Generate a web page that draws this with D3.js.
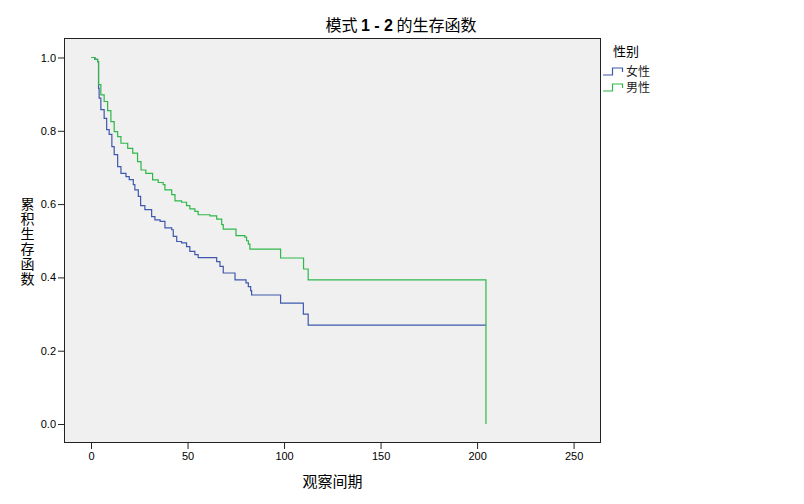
<!DOCTYPE html>
<html><head><meta charset="utf-8">
<script src="https://cdn.jsdelivr.net/npm/d3@7"></script>
<style>
body{margin:0;background:#fff;}
text{font-family:"Liberation Sans",Arial,"Noto Sans CJK SC",sans-serif;}
.cjk{font-family:"Noto Sans CJK SC","Liberation Sans",sans-serif;}
</style></head>
<body>
<svg id="chart" width="804" height="504"></svg>
<script>
// ---- data ----
const chartTitle = ["模式 ", "1 - 2", " 的生存函数"];
const xTitle = "观察间期";
const yTitle = "累积生存函数";
const legendTitle = "性别";
const seriesNames = ["女性", "男性"];
const xTicks = [0, 50, 100, 150, 200, 250];
const yTicks = [0.0, 0.2, 0.4, 0.6, 0.8, 1.0];

const femaleTime = [0, 2, 3.4, 3.9, 4.2, 5.1, 6.8, 8.1, 9.4, 10.8, 12.0, 13.8, 15.5, 18.1, 19.8, 21.9, 22.7, 24.5, 25.7, 27.9, 31.4, 33.1, 35.8, 38.3, 41.8, 42.6, 44.4, 46.9, 49.5, 51.2, 53.8, 55.5, 65.1, 66.8, 68.5, 74.6, 80.3, 81.5, 82.7, 83.2, 98.2, 110.0, 112.5, 204.6];
const femaleSurv = [1.0, 0.995, 0.989, 0.916, 0.889, 0.858, 0.834, 0.803, 0.790, 0.757, 0.735, 0.702, 0.684, 0.675, 0.667, 0.653, 0.639, 0.621, 0.596, 0.585, 0.566, 0.557, 0.553, 0.535, 0.530, 0.512, 0.498, 0.494, 0.484, 0.471, 0.462, 0.454, 0.443, 0.430, 0.412, 0.393, 0.385, 0.375, 0.364, 0.352, 0.330, 0.300, 0.270, 0.270];

const maleTime = [0, 2, 3.4, 3.9, 5.1, 6.8, 8.6, 10.3, 12.0, 13.8, 15.5, 19.0, 21.6, 24.1, 25.9, 28.4, 31.9, 34.8, 37.4, 38.3, 41.8, 43.5, 46.9, 49.5, 51.2, 53.8, 55.5, 61.6, 65.1, 67.7, 68.5, 75.1, 79.7, 80.6, 81.5, 82.3, 98.2, 110.1, 112.5, 204.6];
const maleSurv = [1.0, 0.995, 0.989, 0.926, 0.898, 0.880, 0.855, 0.825, 0.798, 0.784, 0.766, 0.752, 0.739, 0.716, 0.693, 0.684, 0.666, 0.659, 0.653, 0.639, 0.626, 0.609, 0.605, 0.596, 0.587, 0.580, 0.571, 0.568, 0.559, 0.544, 0.532, 0.514, 0.510, 0.500, 0.491, 0.477, 0.453, 0.423, 0.393, 0.0];

const colors = ["#3E58AC", "#2EB848"];

// ---- drawing ----
const svg = d3.select("#chart");
svg.append("rect").attr("width", 804).attr("height", 504).attr("fill", "#fff");

const plot = {left: 64, right: 601, top: 38, bottom: 443};
const x = d3.scaleLinear().domain([-14.0, 264.2]).range([plot.left, plot.right]);
const y = d3.scaleLinear().domain([-0.0518, 1.0532]).range([plot.bottom, plot.top]);

svg.append("rect")
  .attr("x", plot.left).attr("y", plot.top)
  .attr("width", plot.right - plot.left).attr("height", plot.bottom - plot.top)
  .attr("fill", "#f0f0f0");

// axes
const xAxis = d3.axisBottom(x).tickValues(xTicks).tickFormat(d3.format("d")).tickSize(6).tickPadding(3);
const yAxis = d3.axisLeft(y).tickValues(yTicks).tickFormat(d3.format(".1f")).tickSize(6).tickPadding(2);

const gx = svg.append("g").attr("transform", `translate(0,${plot.bottom})`).call(xAxis);
const gy = svg.append("g").attr("transform", `translate(${plot.left},0)`).call(yAxis);
[gx, gy].forEach(g => {
  g.select(".domain").remove();
  g.selectAll(".tick line").attr("stroke", "#222");
  g.selectAll(".tick text").attr("fill", "#000").style("font-size", "11px")
    .style("font-family", "'Liberation Sans', Arial, sans-serif");
});

// frame
svg.append("rect")
  .attr("x", plot.left + 0.5).attr("y", plot.top + 0.5)
  .attr("width", plot.right - plot.left - 1).attr("height", plot.bottom - plot.top - 1)
  .attr("fill", "none").attr("stroke", "#222").attr("stroke-width", 1);

// curves
const series = [
  {name: seriesNames[0], t: femaleTime, s: femaleSurv, color: colors[0]},
  {name: seriesNames[1], t: maleTime, s: maleSurv, color: colors[1]}
];
const line = d3.line().x(d => x(d[0])).y(d => y(d[1])).curve(d3.curveStepAfter);
series.forEach(se => {
  const pts = se.t.map((t, i) => [t, se.s[i]]);
  svg.append("path").datum(pts)
    .attr("d", line)
    .attr("fill", "none").attr("stroke", se.color).attr("stroke-width", 1.2);
});

// title
const tt = svg.append("text").attr("class", "cjk")
  .attr("x", 401).attr("y", 31).attr("text-anchor", "middle")
  .style("font-size", "16px").attr("fill", "#000");
tt.append("tspan").text(chartTitle[0]);
tt.append("tspan").style("font-weight", "bold").style("font-family", "'Liberation Sans', Arial, sans-serif").text(chartTitle[1]);
tt.append("tspan").text(chartTitle[2]);

// x title
svg.append("text").attr("class", "cjk")
  .attr("x", (plot.left + plot.right) / 2).attr("y", 487)
  .attr("text-anchor", "middle").style("font-size", "15px").attr("fill", "#000")
  .text(xTitle);

// y title: one vertical text
svg.append("text").attr("class", "cjk")
  .attr("x", 27.5).attr("y", 197)
  .style("writing-mode", "vertical-rl")
  .style("font-size", "14px").style("letter-spacing", "1px").attr("fill", "#000")
  .text(yTitle);

// legend
svg.append("text").attr("class", "cjk")
  .attr("x", 613).attr("y", 56).style("font-size", "13px").attr("fill", "#000")
  .text(legendTitle);
series.forEach((se, i) => {
  const cy = 71 + i * 16;
  svg.append("path")
    .attr("d", `M603,${cy + 4}H612.5V${cy - 3}H622.5V${cy + 1}`)
    .attr("fill", "none").attr("stroke", se.color).attr("stroke-width", 1.2);
  svg.append("text").attr("class", "cjk")
    .attr("x", 626).attr("y", cy + 4.5).style("font-size", "12px").attr("fill", "#222")
    .text(se.name);
});
</script>
</body></html>
